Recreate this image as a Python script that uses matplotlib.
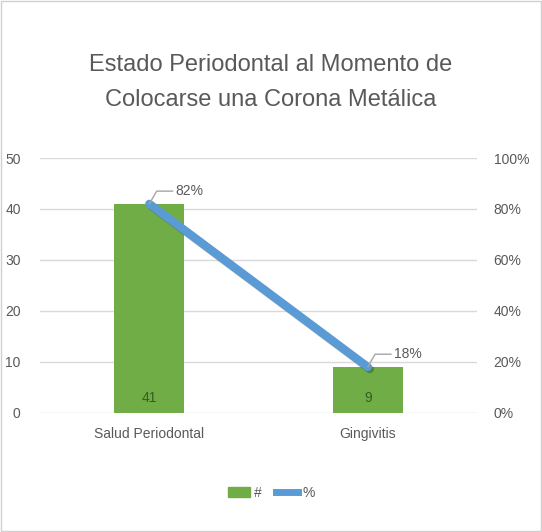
import matplotlib.pyplot as plt
import matplotlib.patches as mpatches
import matplotlib.patheffects as pe

categories = ['Salud Periodontal', 'Gingivitis']
counts = [41, 9]
percents = [82, 18]
pct_labels = ['82%', '18%']

text_color = '#595959'
bar_color = '#70AD47'
line_color = '#5B9BD5'
grid_color = '#D9D9D9'

plt.rcParams['font.family'] = ['Liberation Sans', 'DejaVu Sans']

fig = plt.figure(figsize=(5.42, 5.32), dpi=100)
fig.patches.append(mpatches.Rectangle((0.002, 0.002), 0.996, 0.996, transform=fig.transFigure,
                                      fill=False, edgecolor='#D0D0D0', lw=1))
ax = fig.add_axes([0.074, 0.224, 0.806, 0.479])
x = list(range(len(categories)))

ax.bar(x, counts, width=0.32, color=bar_color, zorder=2)
ax.set_ylim(0, 50)
ax.set_xlim(-0.5, 1.5)
ax.set_yticks(range(0, 51, 10))
ax.grid(axis='y', color=grid_color, lw=1, zorder=0)
ax.set_xticks(x)
ax.set_xticklabels(categories)
for s in ax.spines.values():
    s.set_visible(False)
ax.tick_params(axis='both', length=0, colors=text_color, labelsize=10)
ax.tick_params(axis='y', pad=14)
ax.tick_params(axis='x', pad=10)

for xi, c in zip(x, counts):
    ax.text(xi, 3, str(c), ha='center', va='center', color='#3A5A20', fontsize=10)

ax2 = ax.twinx()
ax2.set_ylim(0, 100)
ax2.set_yticks(range(0, 101, 20))
ax2.set_yticklabels([f'{v}%' for v in range(0, 101, 20)])
for s in ax2.spines.values():
    s.set_visible(False)
ax2.tick_params(axis='y', length=0, colors=text_color, labelsize=10, pad=12)
ax2.plot(x, percents, color=line_color, lw=6, solid_capstyle='round', zorder=3,
         path_effects=[pe.SimpleLineShadow(offset=(1.5, -1.5), alpha=0.25), pe.Normal()])

for xi, p, lab in zip(x, percents, pct_labels):
    ax2.annotate(lab, xy=(xi, p), xytext=(xi + 0.12, p + 5), color=text_color, fontsize=10,
                 va='center', ha='left',
                 arrowprops=dict(arrowstyle='-', color='#A6A6A6', lw=1,
                                 connectionstyle='angle,angleA=0,angleB=60,rad=0',
                                 shrinkA=0, shrinkB=0))

fig.text(0.5, 0.878, 'Estado Periodontal al Momento de', ha='center', va='center',
         fontsize=17, color=text_color)
fig.text(0.5, 0.812, 'Colocarse una Corona Metálica', ha='center', va='center',
         fontsize=17, color=text_color)

handles = [mpatches.Patch(color=bar_color, label='#'),
           plt.Line2D([], [], color=line_color, lw=5, label='%')]
fig.legend(handles=handles, loc='center', bbox_to_anchor=(0.5, 0.073), ncol=2, frameon=False,
           fontsize=10, labelcolor=text_color, handlelength=1.6, columnspacing=1.0,
           handletextpad=0.3)

fig.savefig('out.png', dpi=100)
